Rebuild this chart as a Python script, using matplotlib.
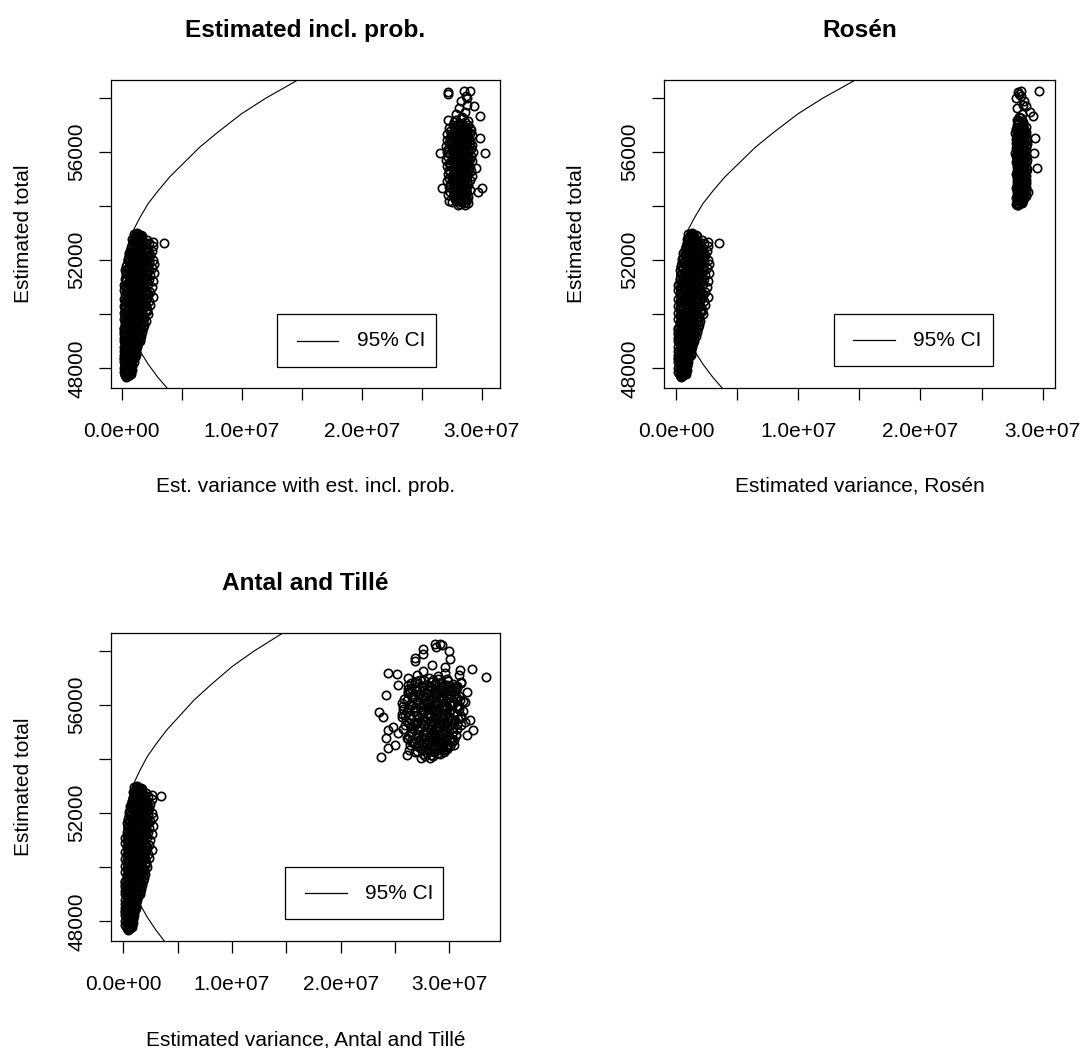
import numpy as np
import matplotlib.pyplot as plt
from matplotlib.ticker import FuncFormatter
from matplotlib.patches import Rectangle

plt.rcParams['font.family'] = ['Liberation Sans', 'DejaVu Sans']

# Nedre klustret: skattad total och skattad varians (enhet 1e5), samma i alla tre paneler
left_total = [
    47700, 47740, 47770, 47800, 47830, 47860, 47880, 47900,
    47930, 47950, 47980, 48010, 48040, 48060, 48090, 48120, 48140,
    48170, 48190, 48220, 48240, 48270, 48300, 48320, 48350, 48370, 48390,
    48410, 48430, 48460, 48480, 48500, 48530, 48550, 48570, 48600, 48620, 48640,
    48660, 48680, 48710, 48730, 48750, 48780, 48800, 48820, 48850, 48870, 48890,
    48910, 48930, 48950, 48980, 49000, 49020, 49050, 49070, 49090, 49110, 49130, 49150,
    49170, 49190, 49210, 49240, 49260, 49280, 49300, 49320, 49340, 49370, 49390,
    49410, 49430, 49450, 49480, 49500, 49520, 49540, 49570, 49590, 49610, 49630, 49650,
    49670, 49690, 49710, 49740, 49760, 49780, 49800, 49820, 49850, 49870, 49890,
    49910, 49930, 49950, 49980, 50000, 50020, 50040, 50070, 50090, 50110, 50130, 50150,
    50170, 50190, 50210, 50240, 50260, 50280, 50300, 50320, 50350, 50370, 50390,
    50410, 50430, 50450, 50480, 50500, 50520, 50540, 50570, 50590, 50610, 50630, 50650,
    50670, 50690, 50710, 50740, 50760, 50780, 50800, 50820, 50850, 50870, 50890,
    50910, 50930, 50950, 50980, 51000, 51020, 51040, 51070, 51090, 51110, 51130, 51150,
    51170, 51190, 51210, 51240, 51260, 51280, 51300, 51320, 51350, 51370, 51390,
    51410, 51430, 51450, 51480, 51500, 51520, 51540, 51570, 51590, 51610, 51630, 51650,
    51670, 51690, 51710, 51740, 51760, 51780, 51800, 51820, 51850, 51870, 51890,
    51910, 51930, 51950, 51980, 52000, 52020, 52040, 52070, 52090, 52110, 52130,
    52170, 52190, 52210, 52240, 52260, 52280, 52300, 52320, 52350, 52370, 52390,
    52410, 52430, 52450, 52480, 52500, 52520, 52540, 52570, 52590, 52610, 52630, 52640,
    52660, 52680, 52710, 52740, 52760, 52790, 52820, 52850, 52880,
    52910, 52940, 52970, 52990,
    47720, 47750, 47785, 47815, 47845, 47870, 47895,
    47915, 47940, 47965, 47995, 48025, 48050, 48075, 48105, 48130,
    48160, 48180, 48205, 48230, 48255, 48285, 48310, 48335, 48360, 48385,
    48420, 48445, 48470, 48490, 48515, 48540, 48560, 48585, 48610, 48630, 48650,
    48670, 48695, 48720, 48740, 48765, 48790, 48810, 48835, 48860, 48880, 48900,
    48920, 48940, 48965, 48990, 49010, 49035, 49060, 49080, 49100, 49120, 49140,
    49160, 49180, 49200, 49225, 49250, 49270, 49290, 49310, 49330, 49355, 49380, 49400,
    49420, 49440, 49465, 49490, 49510, 49530, 49555, 49580, 49600, 49620, 49640,
    49660, 49680, 49700, 49725, 49750, 49770, 49790, 49810, 49835, 49860, 49880, 49900,
    49920, 49940, 49965, 49990, 50010, 50030, 50055, 50080, 50100, 50120, 50140,
    50160, 50180, 50200, 50225, 50250, 50270, 50290, 50310, 50335, 50360, 50380, 50400,
    50420, 50440, 50465, 50490, 50510, 50530, 50555, 50580, 50600, 50620, 50640,
    50660, 50680, 50700, 50725, 50750, 50770, 50790, 50810, 50835, 50860, 50880, 50900,
    50920, 50940, 50965, 50990, 51010, 51030, 51055, 51080, 51100, 51120, 51140,
    51160, 51180, 51200, 51225, 51250, 51270, 51290, 51310, 51335, 51360, 51380, 51400,
    51420, 51440, 51465, 51490, 51510, 51530, 51555, 51580, 51600, 51620, 51640,
    51660, 51680, 51700, 51725, 51750, 51770, 51790, 51810, 51835, 51860, 51880, 51900,
    51920, 51940, 51965, 51990, 52010, 52030, 52055, 52080, 52100, 52120, 52140,
    52160, 52180, 52200, 52225, 52250, 52270, 52290, 52310, 52335, 52360, 52380, 52400,
    52420, 52440, 52465, 52490, 52510, 52530, 52555, 52580, 52600, 52620, 52650,
    52670, 52700, 52725, 52750, 52775, 52800, 52835, 52865, 52895,
    52925, 52955,
]
left_var = [
    4, 6, 3, 8, 5, 2, 7, 4,
    9, 3, 6, 2, 8, 5, 3, 7, 9,
    4, 8, 2, 10, 6, 3, 9, 5, 7, 2,
    11, 4, 7, 2, 12, 5, 9, 3, 10, 6, 2,
    8, 12, 3, 10, 5, 13, 2, 7, 11, 4, 9,
    6, 14, 3, 10, 2, 12, 7, 15, 4, 9, 13, 5,
    11, 3, 16, 7, 2, 13, 9, 5, 17, 12, 4,
    8, 15, 2, 18, 6, 11, 4, 14, 9, 19, 3, 12,
    7, 16, 3, 11, 20, 5, 13, 2, 17, 9, 14,
    4, 19, 10, 6, 22, 13, 2, 16, 8, 20, 4, 11,
    15, 3, 21, 9, 6, 18, 12, 2, 24, 7, 14,
    10, 19, 4, 23, 13, 7, 17, 2, 21, 11, 5, 26,
    15, 8, 22, 3, 12, 19, 6, 24, 10, 16, 2,
    20, 9, 14, 4, 25, 12, 7, 18, 2, 22, 10, 15,
    5, 21, 13, 26, 8, 17, 3, 23, 11, 15, 6,
    19, 9, 24, 4, 14, 27, 11, 7, 20, 16, 3, 23,
    13, 6, 25, 10, 18, 4, 22, 15, 8, 27, 12,
    20, 6, 16, 10, 26, 13, 5, 22, 9, 18, 14,
    8, 24, 12, 17, 6, 21, 10, 15, 25, 9, 19,
    13, 22, 8, 17, 11, 26, 14, 9, 20, 16, 35, 12,
    26, 10, 18, 13, 21, 9, 15, 11, 17,
    12, 16, 10, 13,
    5, 3, 7, 4, 6, 3, 6,
    5, 7, 4, 8, 3, 6, 9, 4, 6,
    7, 3, 6, 8, 3, 9, 6, 2, 8, 10,
    6, 9, 3, 8, 10, 3, 7, 12, 4, 9, 5,
    4, 9, 6, 12, 3, 8, 11, 5, 13, 6, 10,
    8, 4, 12, 6, 15, 3, 10, 6, 13, 2, 8,
    7, 14, 5, 10, 15, 4, 8, 12, 2, 8, 15, 6,
    12, 4, 9, 14, 2, 16, 7, 11, 5, 15, 8,
    10, 4, 12, 18, 7, 14, 9, 4, 11, 19, 6, 15,
    12, 7, 15, 3, 9, 17, 5, 12, 14, 7, 21,
    9, 12, 5, 16, 11, 3, 14, 20, 8, 10, 18, 5,
    14, 7, 16, 9, 3, 20, 12, 8, 15, 18, 9,
    11, 4, 17, 13, 8, 21, 10, 14, 5, 20, 12, 7,
    16, 5, 11, 19, 8, 16, 4, 13, 9, 17, 5,
    12, 9, 18, 4, 14, 10, 20, 7, 16, 21, 9, 13,
    6, 12, 17, 8, 21, 5, 15, 10, 13, 9, 17,
    19, 9, 14, 5, 21, 11, 16, 7, 19, 11, 23, 8,
    14, 10, 23, 7, 17, 11, 19, 13, 6, 23, 10,
    15, 11, 19, 7, 13, 17, 12, 22, 8, 14, 11, 21,
    10, 15, 12, 20, 9, 13, 18, 11, 14, 23, 10,
    14, 12, 16, 10, 14, 12, 14, 13, 15,
    14, 12,
]

# Övre klustret: skattad total, samt varians (enhet 1e5) för de tre skattarna
right_total = [
    58245, 58245, 58210, 58160, 58060, 58000, 57900, 57750, 57690, 57630,
    57500, 57420, 57320, 57300, 57200, 57160, 57100, 57020,
    56990, 56960, 56930, 56900, 56880, 56860, 56850,
    56830, 56800, 56780, 56760, 56740, 56720, 56700, 56700,
    56680, 56660, 56640, 56620, 56600, 56580, 56560, 56550,
    56530, 56510, 56490, 56470, 56450, 56440, 56420, 56400, 56400,
    56380, 56360, 56340, 56320, 56300, 56290, 56270, 56250, 56250,
    56230, 56210, 56190, 56170, 56150, 56140, 56120, 56100, 56100,
    56080, 56060, 56040, 56020, 56000, 55990, 55970, 55960, 55960, 55950,
    55930, 55910, 55890, 55870, 55850, 55840, 55820, 55800, 55800,
    55780, 55760, 55750, 55730, 55710, 55700, 55680, 55660, 55650,
    55630, 55610, 55590, 55570, 55560, 55540, 55520, 55510, 55500,
    55480, 55460, 55440, 55420, 55410, 55390, 55370, 55360, 55350,
    55330, 55310, 55290, 55270, 55250, 55240, 55220, 55200, 55200,
    55180, 55160, 55140, 55120, 55100, 55090, 55070, 55070, 55050,
    55030, 55010, 54990, 54970, 54950, 54940, 54920, 54900, 54890,
    54870, 54850, 54830, 54810, 54790, 54770, 54760, 54750,
    54730, 54710, 54690, 54670, 54670, 54650, 54630, 54610, 54600,
    54580, 54560, 54540, 54520, 54520, 54500, 54480, 54460, 54450,
    54430, 54410, 54400, 54380, 54360, 54340, 54320, 54300,
    54260, 54230, 54200, 54170, 54120, 54110, 54090, 54060, 54050,
    57250, 57180, 57120, 57060, 57010, 56970, 56940, 56910, 56870,
    56820, 56790, 56770, 56750, 56730, 56710, 56690, 56670, 56650, 56630, 56610, 56590, 56570,
    56540, 56520, 56500, 56480, 56460, 56430, 56410, 56390, 56370, 56350, 56330, 56310, 56280, 56260,
    56240, 56220, 56200, 56180, 56160, 56130, 56110, 56090, 56070, 56050, 56030, 56010, 55980, 55965,
    55940, 55920, 55900, 55880, 55860, 55830, 55810, 55790, 55770, 55740, 55720, 55690, 55670, 55655,
    55640, 55620, 55600, 55580, 55550, 55530, 55505, 55490, 55470, 55450, 55430, 55400, 55380, 55355,
    55340, 55320, 55300, 55280, 55260, 55230, 55210, 55190, 55170, 55150, 55130, 55110, 55080, 55060,
    55040, 55020, 55000, 54980, 54960, 54930, 54910, 54880, 54860, 54840, 54820, 54800, 54780, 54755,
    54740, 54720, 54700, 54680, 54660, 54640, 54620, 54590, 54570, 54550, 54530, 54510, 54490, 54470,
    54440, 54420, 54390, 54370, 54350, 54330, 54310, 54280, 54250, 54220, 54190, 54150,
]
right_var_est = [
    285, 290, 272, 272, 287, 288, 283, 288, 294, 281,
    286, 279, 299, 284, 272, 289, 277, 282,
    276, 284, 279, 290, 273, 286, 281,
    278, 291, 274, 285, 280, 288, 276, 283,
    271, 287, 279, 292, 275, 283, 278, 289,
    299, 274, 285, 280, 271, 290, 277, 284, 282,
    275, 288, 281, 273, 286, 279, 292, 277, 284,
    270, 287, 280, 275, 291, 283, 278, 286, 272,
    281, 289, 276, 284, 271, 293, 279, 303, 265, 286,
    274, 288, 280, 277, 291, 283, 272, 285, 279,
    287, 275, 282, 290, 270, 284, 278, 292, 281,
    276, 287, 273, 283, 289, 279, 274, 286, 282,
    271, 290, 281, 277, 295, 284, 279, 287, 273,
    283, 278, 291, 274, 286, 280, 289, 276, 284,
    272, 287, 281, 277, 292, 284, 275, 288, 280,
    273, 286, 279, 290, 276, 283, 271, 288, 281,
    277, 285, 280, 274, 289, 282, 276, 286,
    279, 273, 287, 267, 300, 281, 284, 276, 290,
    278, 285, 297, 274, 283, 280, 288, 277, 284,
    272, 286, 279, 283, 276, 289, 280, 285,
    278, 288, 273, 275, 285, 289, 282, 280, 286,
    283, 279, 286, 281, 289, 280, 287, 277, 283,
    285, 280, 288, 277, 283, 290, 281, 275, 284, 288, 280, 286, 277,
    283, 289, 279, 286, 281, 274, 288, 282, 279, 285, 290, 280, 283, 287,
    279, 284, 276, 288, 282, 285, 279, 290, 283, 278, 287, 281, 285, 276,
    282, 287, 279, 284, 276, 289, 281, 285, 280, 278, 286, 283, 288, 279,
    284, 280, 286, 278, 283, 288, 280, 285, 279, 286, 282, 277, 289, 283,
    279, 286, 281, 285, 278, 288, 282, 279, 284, 277, 286, 281, 283, 287,
    280, 284, 277, 286, 281, 279, 285, 283, 288, 278, 284, 281, 286, 279,
    284, 281, 278, 285, 279, 287, 282, 280, 286, 281, 278, 285, 283, 280,
    286, 281, 278, 285, 282, 279, 287, 283, 281, 285, 279, 283,
]
right_var_rosen = [
    282, 297, 280, 281, 282, 278, 285, 284, 286, 279,
    290, 283, 292, 281, 279, 283, 280, 284,
    279, 282, 286, 280, 283, 278, 285,
    281, 284, 279, 286, 282, 277, 283, 280,
    284, 281, 286, 279, 283, 285, 280, 282,
    294, 281, 278, 286, 283, 279, 284, 281, 287,
    280, 285, 282, 278, 284, 287, 281, 283, 279,
    284, 280, 286, 282, 278, 284, 281, 285, 279,
    283, 280, 286, 282, 279, 284, 281, 293, 277, 285,
    283, 279, 286, 281, 284, 278, 283, 280, 286,
    282, 285, 279, 284, 281, 287, 280, 283, 278,
    284, 281, 286, 279, 283, 285, 280, 282, 284,
    281, 286, 279, 284, 295, 280, 283, 287, 281,
    285, 279, 283, 281, 286, 280, 284, 282, 278,
    285, 281, 283, 279, 286, 282, 284, 280, 283,
    281, 285, 279, 283, 286, 280, 284, 282, 279,
    283, 286, 281, 284, 279, 282, 285, 280,
    283, 281, 286, 278, 284, 282, 280, 284, 281,
    283, 286, 288, 281, 279, 284, 282, 280, 285,
    281, 284, 279, 283, 286, 280, 282, 278,
    281, 284, 279, 282, 280, 283, 278, 279, 280,
    282, 280, 284, 281, 283, 284, 281, 283, 280,
    283, 282, 285, 280, 283, 281, 284, 282, 279, 283, 285, 281, 284,
    281, 284, 282, 280, 284, 282, 280, 285, 282, 280, 284, 281, 285, 282,
    283, 281, 284, 280, 283, 282, 285, 281, 283, 284, 280, 282, 285, 281,
    284, 281, 283, 280, 284, 282, 285, 281, 283, 280, 284, 282, 285, 281,
    283, 280, 284, 282, 285, 281, 283, 280, 284, 282, 285, 281, 283, 280,
    284, 282, 280, 284, 282, 285, 281, 283, 280, 284, 282, 285, 281, 283,
    280, 284, 282, 285, 281, 283, 280, 284, 282, 285, 281, 283, 280, 284,
    282, 285, 281, 283, 280, 284, 282, 285, 281, 283, 280, 284, 282, 285,
    281, 283, 280, 284, 282, 285, 281, 283, 280, 284, 281, 283,
]
right_var_antal = [
    291, 287, 293, 288, 276, 300, 276, 268, 301, 268,
    284, 296, 321, 310, 244, 252, 309, 334,
    262, 290, 277, 299, 270, 311, 283,
    265, 311, 288, 253, 296, 275, 307, 281,
    292, 270, 302, 307, 262, 284, 295, 276,
    286, 299, 262, 316, 280, 290, 271, 305, 288,
    242, 297, 278, 309, 266, 286, 300, 274, 292,
    283, 306, 261, 294, 279, 313, 287, 270, 297,
    282, 290, 276, 301, 285, 266, 293, 280, 257, 307,
    273, 298, 284, 262, 289, 309, 277, 295, 283,
    268, 300, 235, 286, 274, 304, 290, 279, 259,
    296, 283, 270, 239, 301, 287, 311, 276, 293,
    265, 305, 319, 282, 291, 271, 298, 285, 263,
    290, 307, 277, 295, 268, 284, 300, 248, 288,
    279, 303, 266, 294, 283, 271, 244, 322, 290,
    278, 298, 285, 265, 253, 293, 276, 306, 316,
    283, 270, 297, 287, 261, 242, 291, 278,
    302, 285, 272, 288, 296, 267, 281, 293, 277,
    276, 289, 299, 250, 304, 283, 270, 298, 286,
    279, 292, 244, 274, 287, 263, 295, 281,
    268, 290, 276, 261, 285, 278, 237, 282, 274,
    276, 296, 270, 290, 281, 298, 285, 273, 292,
    268, 303, 287, 262, 298, 276, 306, 283, 294, 265, 290, 272, 300,
    280, 305, 264, 296, 286, 262, 301, 272, 292, 267, 288, 306, 276, 299,
    292, 258, 310, 283, 297, 266, 314, 288, 256, 303, 279, 264, 295, 309,
    298, 268, 307, 285, 257, 301, 275, 313, 289, 261, 304, 281, 256, 296,
    291, 264, 311, 282, 256, 299, 272, 308, 287, 260, 302, 278, 314, 269,
    303, 274, 294, 259, 311, 285, 265, 298, 289, 270, 307, 257, 296, 283,
    294, 266, 303, 279, 292, 270, 306, 286, 263, 299, 276, 301, 288, 262,
    296, 272, 304, 284, 265, 302, 290, 268, 299, 279, 294, 264, 301, 287,
    272, 293, 280, 298, 276, 290, 270, 286, 295, 279, 291, 283,
]

# 95% konfidensgräns (varians i enhet 1e5)
ci_var = [0, 1, 3, 6, 10, 15, 22, 30, 40, 50, 65, 80, 100, 120, 145, 170]
ci_upper = [51150, 51780, 52230, 52680, 53130, 53560, 54090, 54550, 55080,
            55520, 56180, 56730, 57420, 57990, 58620, 59240]
ci_low_var = [0, 1, 3, 6, 10, 15, 22, 30, 40, 50]
ci_lower = [51150, 50520, 50070, 49620, 49170, 48660, 48160, 47680, 47160, 46700]

FS = 15
fig = plt.figure(figsize=(10.82, 10.48), dpi=100)
W, H = 1082, 1048


def fmt_x(v, pos):
    k = int(round(v / 5e6))
    return f"{v:.1e}" if k % 2 == 0 else ""


def fmt_y(v, pos):
    return str(int(v)) if int(round(v - 48000)) % 4000 == 0 else ""


def panel(box, right_var, title, xlabel, xlim, leg):
    x0, y0, x1, y1 = box  # pixelkoordinater, y nedåt
    ax = fig.add_axes([x0 / W, 1 - y1 / H, (x1 - x0) / W, (y1 - y0) / H])
    wpx, hpx = x1 - x0, y1 - y0

    xs = np.concatenate([left_var, right_var]) * 1e5
    ys = np.concatenate([left_total, right_total])
    ax.plot(xs, ys, 'o', ms=6.0, mfc='none', mec='black', mew=1.2, ls='none')
    ax.plot(np.array(ci_var) * 1e5, ci_upper, color='black', lw=0.8)
    ax.plot(np.array(ci_low_var) * 1e5, ci_lower, color='black', lw=0.8)

    ax.set_xlim(*xlim)
    ax.set_ylim(47275, 58665)
    ax.set_xticks(np.arange(0, 3.01e7, 0.5e7))
    ax.set_yticks(np.arange(48000, 58001, 2000))
    ax.xaxis.set_major_formatter(FuncFormatter(fmt_x))
    ax.yaxis.set_major_formatter(FuncFormatter(fmt_y))
    ax.tick_params(direction='out', length=8.6, width=0.9, labelsize=FS)
    ax.tick_params(axis='x', pad=16)
    ax.tick_params(axis='y', pad=9, labelrotation=90)
    plt.setp(ax.get_yticklabels(), va='center')
    for s in ax.spines.values():
        s.set_linewidth(0.9)

    ax.text(0.5, 1 + 43 / hpx, title, transform=ax.transAxes, ha='center',
            va='baseline', fontsize=17.6, fontweight='bold')
    ax.text(0.5, -104 / hpx, xlabel, transform=ax.transAxes, ha='center',
            va='baseline', fontsize=FS)
    ax.text(-88 / wpx, 0.5, 'Estimated total', transform=ax.transAxes,
            rotation=90, ha='center', va='center', fontsize=FS)

    # förklaring
    lx0, lx1, ly0, ly1, sx0, sx1, tx = leg
    ax.add_patch(Rectangle((lx0, ly0), lx1 - lx0, ly1 - ly0, transform=ax.transAxes,
                           fill=False, ec='black', lw=0.9))
    ym = (ly0 + ly1) / 2
    ax.plot([sx0, sx1], [ym, ym], transform=ax.transAxes, color='black', lw=0.9)
    ax.text(tx, ym, '95% CI', transform=ax.transAxes, ha='left', va='center',
            fontsize=FS)
    return ax


panel((111, 80, 500, 388), right_var_est, 'Estimated incl. prob.',
      'Est. variance with est. incl. prob.', (-0.089e7, 3.153e7),
      (0.426, 0.8355, 0.069, 0.239, 0.4774, 0.5843, 0.6316))
panel((664, 80, 1055, 388), right_var_rosen, 'Rosén',
      'Estimated variance, Rosén', (-0.098e7, 3.101e7),
      (0.4348, 0.8407, 0.071, 0.239, 0.4842, 0.5908, 0.6376))
panel((111, 633, 500, 941), right_var_antal, 'Antal and Tillé',
      'Estimated variance, Antal and Tillé', (-0.113e7, 3.466e7),
      (0.4473, 0.8542, 0.0715, 0.2395, 0.4987, 0.6059, 0.6530))

fig.savefig('out.png', dpi=100, facecolor='white')
